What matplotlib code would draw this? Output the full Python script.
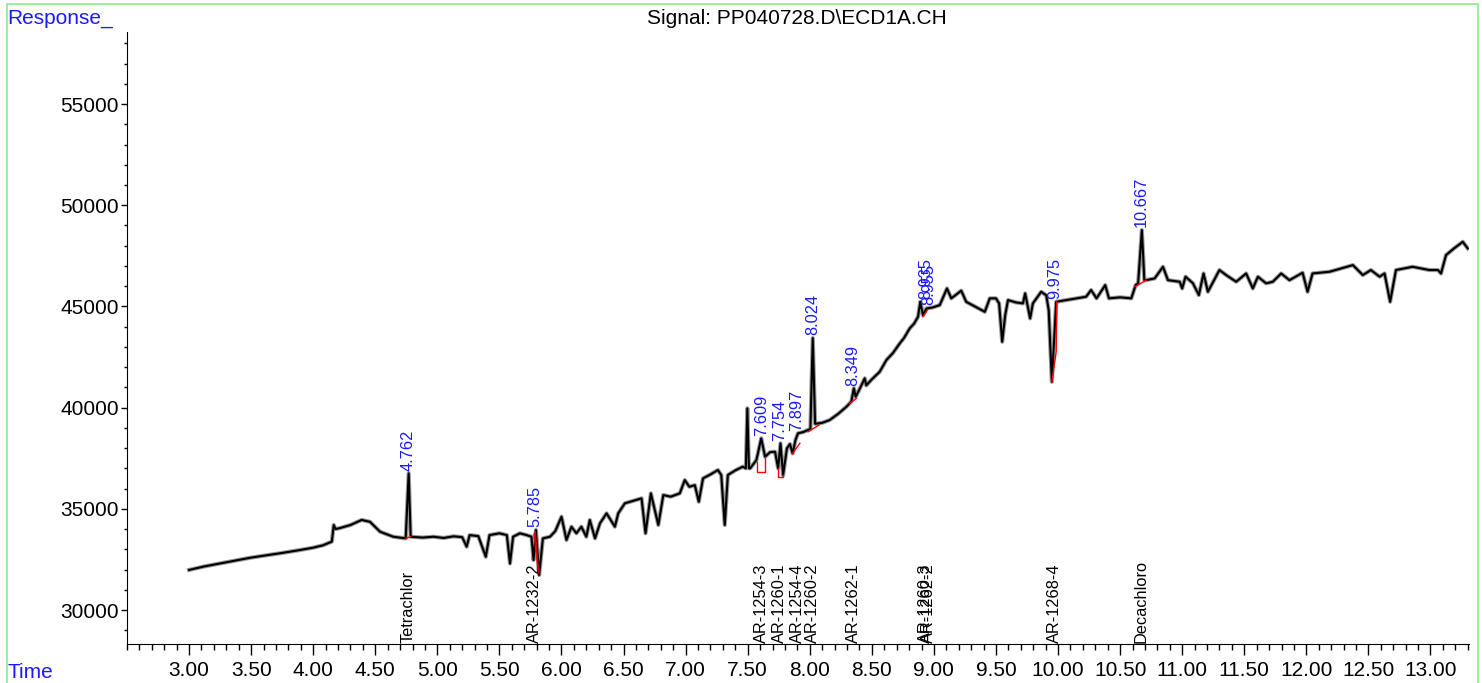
import numpy as np
import matplotlib.pyplot as plt
from matplotlib.ticker import MultipleLocator, FormatStrFormatter
from matplotlib.patches import Rectangle

plt.rcParams['font.family'] = ['Liberation Sans', 'DejaVu Sans']

# signal trace (time in min, response)
time = [3.00, 3.12, 3.25, 3.38, 3.50, 3.62, 3.75, 3.88, 4.00, 4.08, 4.15, 4.165, 4.18, 4.216,
        4.30, 4.39, 4.457, 4.538, 4.645, 4.745, 4.769, 4.785, 4.88, 4.97, 5.05, 5.13, 5.20,
        5.236, 5.26, 5.33, 5.39, 5.42, 5.50, 5.56, 5.585, 5.61, 5.665, 5.72, 5.758, 5.775,
        5.794, 5.82, 5.85, 5.907, 5.95, 6.00, 6.04, 6.08, 6.12, 6.16, 6.20, 6.228, 6.27, 6.31,
        6.363, 6.43, 6.457, 6.51, 6.58, 6.645, 6.677, 6.72, 6.78, 6.82, 6.88, 6.953, 6.993,
        7.03, 7.074, 7.106, 7.14, 7.20, 7.26, 7.287, 7.315, 7.34, 7.40, 7.46, 7.485, 7.497,
        7.51, 7.52, 7.57, 7.609, 7.64, 7.68, 7.72, 7.745, 7.764, 7.785, 7.816, 7.84, 7.862,
        7.885, 7.905, 7.95, 8.005, 8.024, 8.043, 8.10, 8.16, 8.23, 8.295, 8.335, 8.355, 8.37,
        8.40, 8.443, 8.455, 8.50, 8.563, 8.617, 8.67, 8.725, 8.76, 8.805, 8.84, 8.872, 8.89,
        8.912, 8.94, 8.99, 9.047, 9.105, 9.14, 9.22, 9.26, 9.33, 9.41, 9.45, 9.50, 9.525,
        9.55, 9.575, 9.597, 9.66, 9.717, 9.735, 9.775, 9.797, 9.864, 9.905, 9.925, 9.95,
        9.97, 9.985, 10.066, 10.15, 10.226, 10.266, 10.31, 10.38, 10.41, 10.50, 10.59,
        10.625, 10.645, 10.675, 10.695, 10.71, 10.778, 10.845, 10.885, 10.98, 11.00, 11.027,
        11.086, 11.134, 11.172, 11.207, 11.30, 11.354, 11.435, 11.515, 11.569, 11.61, 11.676,
        11.73, 11.797, 11.864, 11.97, 12.01, 12.05, 12.187, 12.375, 12.455, 12.52, 12.59,
        12.63, 12.675, 12.722, 12.856, 12.99, 13.06, 13.085, 13.125, 13.19, 13.26, 13.30]
resp = [31980, 32150, 32300, 32450, 32590, 32700, 32820, 32950, 33080, 33200, 33380, 34200, 34000, 34050,
        34200, 34450, 34360, 33870, 33620, 33540, 36750, 33620, 33580, 33620, 33560, 33640, 33600,
        33130, 33700, 33650, 32630, 33700, 33790, 33700, 32300, 33620, 33790, 33700, 33620, 32470,
        33950, 31730, 33540, 33620, 33900, 34610, 33460, 34115, 33790, 34115, 33620, 34446, 33540, 34283,
        34777, 34115, 34777, 35271, 35400, 35518, 33790, 35765, 34200, 35680, 35600, 35765, 36420,
        36090, 36170, 35350, 36505, 36700, 36916, 36670, 34200, 36670, 36900, 37080, 37000, 39964,
        37000, 37000, 37410, 38482, 37573, 37800, 37820, 37000, 38235, 36670, 37990, 38200, 37740,
        38400, 38730, 38800, 38950, 43437, 39200, 39250, 39386, 39700, 40043, 40300, 40952, 40537,
        40900, 41449, 41100, 41400, 41770, 42350, 42700, 43175, 43450, 43916, 44150, 44490, 45230,
        44573, 44900, 44950, 45067, 45890, 45400, 45780, 45230, 45000, 44735, 45400, 45400, 45150,
        43256, 44600, 45315, 45200, 45150, 45645, 44410, 45150, 45725, 45550, 44800, 41278,
        43500, 45230, 45315, 45400, 45480, 45810, 45400, 46055, 45400, 45450, 45400,
        46055, 46150, 48772, 46300, 46300, 46385, 46960, 46300, 46220, 45890, 46470,
        46150, 45560, 46630, 45725, 46800, 46550, 46220, 46630, 45890, 46470, 46140,
        46220, 46630, 46300, 46665, 45725, 46630, 46715, 47043, 46550, 46800, 46470,
        46630, 45230, 46800, 46960, 46800, 46800, 46630, 47537, 47870, 48194, 47870]

# integrated peaks (retention times) and their labels
peak_rt = [4.762, 5.785, 7.609, 7.754, 7.897, 8.024, 8.349, 8.935, 8.955, 9.975, 10.667]
peak_lbl = ['4.762', '5.785', '7.609', '7.754', '7.897', '8.024', '8.349', '8.935', '8.955', '9.975', '10.667']

# compound names at the bottom
comp_rt = [4.762, 5.785, 7.609, 7.754, 7.897, 8.024, 8.349, 8.935, 8.955, 9.975, 10.667]
comp_name = ['Tetrachlor', 'AR-1232-2', 'AR-1254-3', 'AR-1260-1', 'AR-1254-4', 'AR-1260-2',
             'AR-1262-1', 'AR-1260-3', 'AR-1262-2', 'AR-1268-4', 'Decachloro']

# integration baselines (red)
base_t = [[4.745, 4.785], [7.577, 7.577, 7.64, 7.64], [7.745, 7.745, 7.785, 7.785],
          [7.862, 7.92], [7.987, 8.075], [8.322, 8.376], [8.912, 8.95],
          [9.95, 9.985, 9.99], [10.62, 10.71]]
base_r = [[33540, 33620], [37326, 36800, 36800, 37573], [37000, 36585, 36585, 36670],
          [37740, 38235], [38810, 39140], [40211, 40458], [44490, 44850],
          [41278, 42760, 45230], [45970, 46300]]
# negative-going area at 5.785 (filled red)
fill_t = [5.776, 5.790, 5.818, 5.810]
fill_r = [33750, 33900, 31800, 31950]

fig = plt.figure(figsize=(14.82, 6.83), dpi=100)
ax = fig.add_axes([0.0857, 0.0571, 0.9055, 0.896])

ax.plot(time, resp, color='0.6', lw=3.0, zorder=2)
ax.plot(time, resp, color='black', lw=1.5, zorder=3)

for bt, br in zip(base_t, base_r):
    ax.plot(bt, br, color='red', lw=1.0, zorder=4)
ax.fill(fill_t, fill_r, color='red', alpha=0.7, lw=0.8, zorder=4)

t_arr = np.array(time)
r_arr = np.array(resp)
for rt, lbl in zip(peak_rt, peak_lbl):
    m = (t_arr > rt - 0.05) & (t_arr < rt + 0.05)
    top = r_arr[m].max()
    ax.annotate(lbl, (rt, top), xytext=(0, 2), textcoords='offset points',
                rotation=90, ha='center', va='bottom', color='#1a1aff', fontsize=11.8)

ax.set_xlim(2.5, 13.31)
ax.set_ylim(28320, 58560)

for rt, name in zip(comp_rt, comp_name):
    ax.annotate(name, (rt, 28320), xytext=(0, 1), textcoords='offset points',
                rotation=90, ha='center', va='bottom', color='black', fontsize=11.8)

ax.spines['top'].set_visible(False)
ax.spines['right'].set_visible(False)
ax.xaxis.set_major_locator(MultipleLocator(0.5))
ax.xaxis.set_minor_locator(MultipleLocator(0.1))
ax.xaxis.set_major_formatter(FormatStrFormatter('%.2f'))
ax.yaxis.set_major_locator(MultipleLocator(5000))
ax.yaxis.set_minor_locator(MultipleLocator(1000))
ax.set_xticks([3.0 + 0.5 * i for i in range(21)])
ax.tick_params(axis='x', which='major', length=8, width=1, labelsize=15, pad=4)
ax.tick_params(axis='x', which='minor', length=4, width=1)
ax.tick_params(axis='y', which='major', length=4, width=1, labelsize=15, pad=2)
ax.tick_params(axis='y', which='minor', length=2, width=1)

fig.text(7 / 1482, 1 - 18 / 683, 'Response_', color='#1a1aff', fontsize=15, ha='left', va='center')
fig.text(7 / 1482, 1 - 672 / 683, 'Time', color='#1a1aff', fontsize=15, ha='left', va='center')
fig.text(797 / 1482, 1 - 18 / 683, 'Signal: PP040728.D\\ECD1A.CH', color='black', fontsize=15,
         ha='center', va='center')

fig.patches.append(Rectangle((7 / 1482, -0.01), 1471 / 1482, 1.004, transform=fig.transFigure,
                             fill=False, edgecolor='#88ee88', lw=1.2))

plt.savefig('out.png', dpi=100)
